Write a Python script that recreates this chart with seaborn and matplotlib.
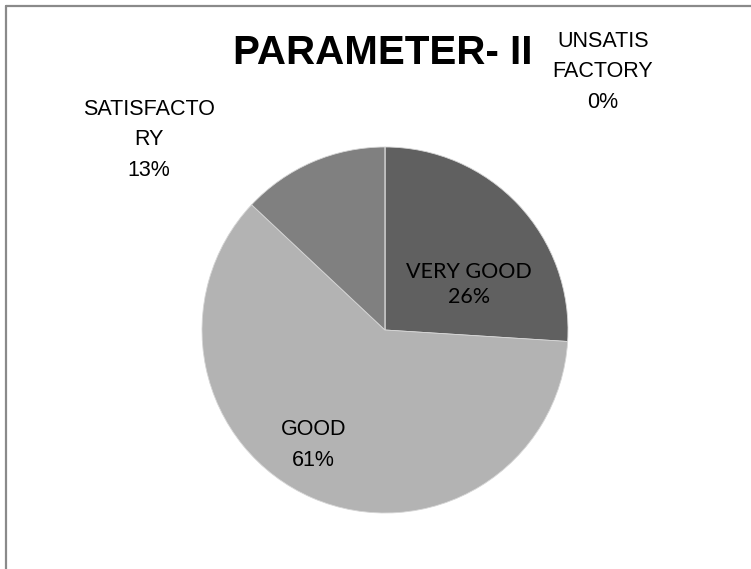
import numpy as np
import matplotlib
matplotlib.use('Agg')
import matplotlib.pyplot as plt
from matplotlib.lines import Line2D
import seaborn as sns

# datos del grafico
categorias = ['VERY GOOD', 'GOOD', 'SATISFACTORY', 'UNSATISFACTORY']
valores = [26, 61, 13, 0]
etiquetas = ['VERY GOOD', 'GOOD', 'SATISFACTO\nRY', 'UNSATIS\nFACTORY']
colores = ['#606060', '#b3b3b3', '#808080', '#4d4d4d']

# posicion de cada etiqueta (coordenadas del pie, radio = 1)
pos_etiquetas = [(0.46, 0.25), (-0.39, -0.63), (-1.29, 1.04), (1.19, 1.41)]

sns.set_theme(style='white')
arial = ['Liberation Sans Narrow', 'Liberation Sans', 'DejaVu Sans']
calibri = ['Lato', 'Liberation Sans', 'DejaVu Sans']

W, H = 751, 569
fig = plt.figure(figsize=(W / 100, H / 100), dpi=100)
ax = fig.add_axes([0, 0, 1, 1])

ax.pie(valores, colors=colores, startangle=90, counterclock=False,
       wedgeprops={'edgecolor': '#d6d6d6', 'linewidth': 0.6})

# centro del pie en pixeles y radio
cx, cy, r = 385, 330, 183
ax.set_xlim(-cx / r, (W - cx) / r)
ax.set_ylim(-(H - cy) / r, cy / r)
ax.axis('off')

total = sum(valores)
for lab, v, (x, y) in zip(etiquetas, valores, pos_etiquetas):
    txt = f'{lab}\n{round(100 * v / total)}%'
    if lab == 'VERY GOOD':
        ax.text(x, y, txt, ha='center', va='center', fontsize=15.5,
                family=calibri, fontweight='normal', linespacing=1.3,
                color='black')
    else:
        ax.text(x, y, txt, ha='center', va='center', fontsize=15.5,
                family=arial, linespacing=1.6, color='black')

fig.text(383 / W, 1 - 53 / H, 'PARAMETER- II', ha='center', va='center',
         fontsize=29, fontweight='bold', family=arial, color='black')

# borde del area del grafico
fig.add_artist(Line2D([6 / W, 6 / W], [0, 1 - 6 / H], color='#8a8a8a', lw=1.6))
fig.add_artist(Line2D([6 / W, 1], [1 - 6 / H, 1 - 6 / H], color='#8a8a8a', lw=1.6))

fig.savefig('out.png', dpi=100)
